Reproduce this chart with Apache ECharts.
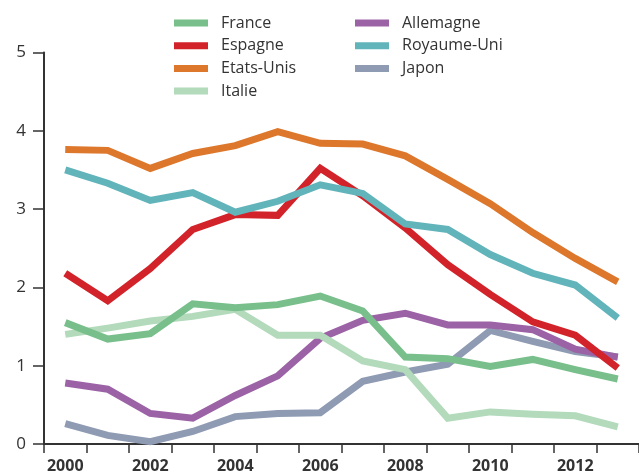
<!DOCTYPE html>
<html>
<head>
<meta charset="utf-8">
<title>Courbes par pays</title>
<script src="https://cdn.jsdelivr.net/npm/echarts@6/dist/echarts.min.js"></script>
<style>
    html, body { margin: 0; padding: 0; background: #fff; }
    #chart { width: 639px; height: 474px; }
</style>
</head>
<body>
<div id="chart"></div>
<script>
    // années (une bande par année, étiquette une sur deux)
    const years = ['2000', '2001', '2002', '2003', '2004', '2005', '2006',
        '2007', '2008', '2009', '2010', '2011', '2012', '2013']

    // valeurs
    const france = [1.55, 1.34, 1.41, 1.79, 1.74, 1.78, 1.89, 1.70, 1.11, 1.09, 0.99, 1.08, 0.95, 0.83]
    const espagne = [2.18, 1.83, 2.24, 2.74, 2.93, 2.92, 3.52, 3.17, 2.76, 2.29, 1.91, 1.56, 1.39, 0.97]
    const etatsUnis = [3.76, 3.75, 3.52, 3.71, 3.81, 3.99, 3.84, 3.83, 3.68, 3.38, 3.07, 2.70, 2.37, 2.07]
    const italie = [1.40, 1.48, 1.57, 1.63, 1.72, 1.39, 1.39, 1.06, 0.95, 0.33, 0.41, 0.38, 0.36, 0.22]
    const allemagne = [0.78, 0.70, 0.39, 0.33, 0.62, 0.87, 1.35, 1.58, 1.67, 1.52, 1.52, 1.46, 1.21, 1.11]
    const royaumeUni = [3.50, 3.33, 3.11, 3.21, 2.96, 3.10, 3.31, 3.20, 2.81, 2.74, 2.42, 2.18, 2.03, 1.61]
    const japon = [0.26, 0.11, 0.03, 0.16, 0.35, 0.39, 0.40, 0.80, 0.92, 1.02, 1.45, 1.31, 1.18, 1.11]

    const yTicks = [0, 1, 2, 3, 4, 5]

    const colors = {
        France: '#78bf8b',
        Espagne: '#d2232a',
        'Etats-Unis': '#dd772c',
        Italie: '#b2dabb',
        Allemagne: '#9c62a6',
        'Royaume-Uni': '#62b4bb',
        Japon: '#8f9bb3'
    }

    const chart = echarts.init(document.getElementById('chart'))

    const fontFamily = '"Open Sans", sans-serif'
    const axisColor = '#333'

    // une série = une courbe
    function makeLine(name, values) {
        return {
            name: name,
            type: 'line',
            data: values,
            symbol: 'none',
            color: colors[name],
            lineStyle: { width: 7, color: colors[name], cap: 'butt', join: 'miter' }
        }
    }

    // légende : une colonne par appel
    function makeLegend(names, left) {
        return {
            data: names,
            orient: 'vertical',
            left: left,
            top: 10,
            icon: 'rect',
            itemWidth: 34,
            itemHeight: 7,
            itemGap: 6.7,
            textStyle: {
                fontFamily: fontFamily,
                fontSize: 16,
                color: '#333',
                padding: [0, 0, 0, 8]
            }
        }
    }

    const option = {
        animation: false,
        backgroundColor: '#fff',
        legend: [
            makeLegend(['France', 'Espagne', 'Etats-Unis', 'Italie'], 169),
            makeLegend(['Allemagne', 'Royaume-Uni', 'Japon'], 350)
        ],
        grid: {
            left: 44,
            right: -9,
            top: 52.5,
            bottom: 30
        },
        xAxis: {
            type: 'category',
            data: years,
            boundaryGap: true,
            axisLine: { lineStyle: { color: axisColor, width: 2 } },
            axisTick: {
                show: true,
                interval: 0,
                alignWithLabel: false,
                length: 9,
                lineStyle: { color: axisColor, width: 1.5 }
            },
            axisLabel: {
                interval: 1,
                margin: 14,
                fontFamily: fontFamily,
                fontSize: 16,
                fontWeight: 'bold',
                color: axisColor
            },
            splitLine: { show: false }
        },
        yAxis: {
            type: 'value',
            min: yTicks[0],
            max: yTicks[yTicks.length - 1],
            interval: 1,
            axisLine: { show: true, lineStyle: { color: axisColor, width: 2 } },
            axisTick: { show: true, length: 11, lineStyle: { color: axisColor, width: 1.5 } },
            axisLabel: {
                margin: 18,
                fontFamily: fontFamily,
                fontSize: 17,
                color: axisColor
            },
            splitLine: { show: false }
        },
        // ordre de dessin : les dernières au-dessus
        series: [
            makeLine('Japon', japon),
            makeLine('Allemagne', allemagne),
            makeLine('Italie', italie),
            makeLine('France', france),
            makeLine('Espagne', espagne),
            makeLine('Royaume-Uni', royaumeUni),
            makeLine('Etats-Unis', etatsUnis)
        ]
    }

    chart.setOption(option)
</script>
</body>
</html>
